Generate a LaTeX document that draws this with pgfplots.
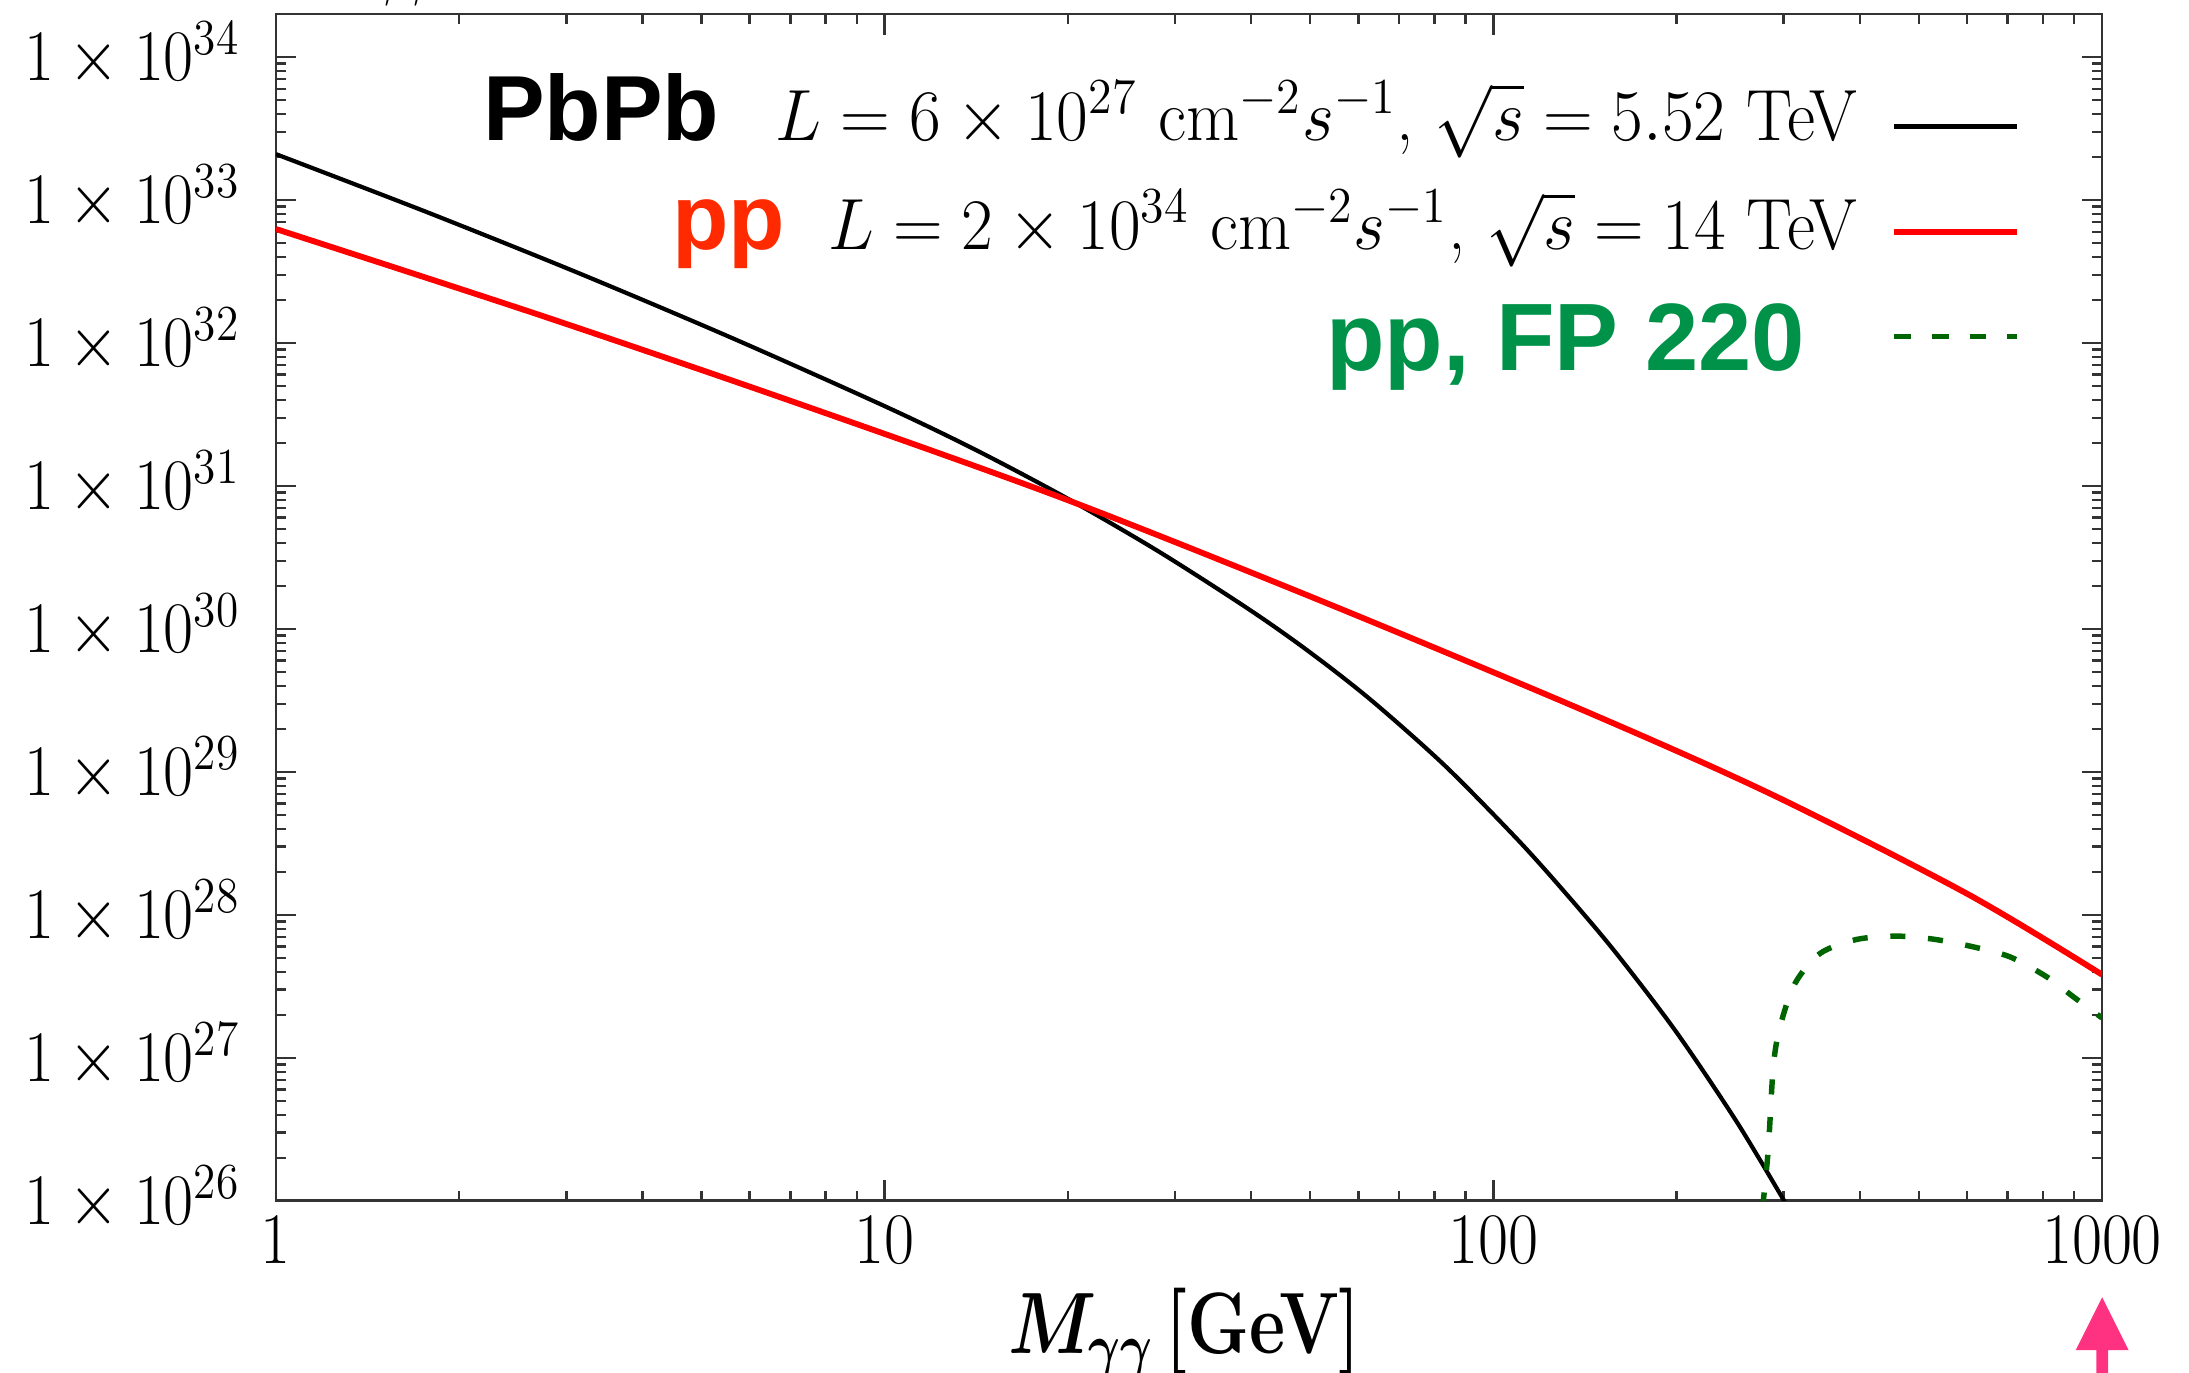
\documentclass[border=0pt]{standalone}
\usepackage{fontspec}
\usepackage{graphicx}
\usepackage{bm}
\usepackage{pgfplots}
\pgfplotsset{compat=1.18}
\newfontfamily\hv{Liberation Sans}

\definecolor{ppred}{RGB}{255,42,0}
\definecolor{fpgreen}{RGB}{0,146,72}
\definecolor{fpline}{RGB}{0,100,0}
\definecolor{arrowpink}{RGB}{255,50,130}

% bold sans labels put on top of the legend, squeezed LM text
\newcommand{\lab}[1]{{\hv\bfseries\fontsize{22}{24}\selectfont #1}}
\newcommand{\sq}[1]{\scalebox{0.9}[1]{#1}}

\pgfplotsset{
    legimg/.style={legend image code/.code={\draw[##1, yshift=#1] (0pt,0pt) -- (29.3pt,0pt);}},
    legimgdash/.style={legend image code/.code={\draw[##1, yshift=#1, dash pattern=on 4pt off 5pt] (0pt,0pt) -- (29.3pt,0pt);}},
}

\begin{document}
\begin{tikzpicture}
\begin{axis}[
    at={(0pt,0pt)}, anchor=south west,
    scale only axis, width=434.76pt, height=282.6pt,
    xmode=log, ymode=log,
    xmin=1, xmax=1000, ymin=1e26, ymax=2e34,
    xtick={1,10,100,1000},
    xticklabels={\sq{1},\sq{10},\sq{100},\sq{1000}},
    minor xtick={2,3,4,5,6,7,8,9,20,30,40,50,60,70,80,90,200,300,400,500,600,700,800,900},
    ytick={1e26,1e27,1e28,1e29,1e30,1e31,1e32,1e33,1e34},
    yticklabels={\sq{$1\times10^{26}$},\sq{$1\times10^{27}$},\sq{$1\times10^{28}$},
        \sq{$1\times10^{29}$},\sq{$1\times10^{30}$},\sq{$1\times10^{31}$},
        \sq{$1\times10^{32}$},\sq{$1\times10^{33}$},\sq{$1\times10^{34}$}},
    minor ytick={2e26,3e26,4e26,5e26,6e26,7e26,8e26,9e26,
        2e27,3e27,4e27,5e27,6e27,7e27,8e27,9e27,
        2e28,3e28,4e28,5e28,6e28,7e28,8e28,9e28,
        2e29,3e29,4e29,5e29,6e29,7e29,8e29,9e29,
        2e30,3e30,4e30,5e30,6e30,7e30,8e30,9e30,
        2e31,3e31,4e31,5e31,6e31,7e31,8e31,9e31,
        2e32,3e32,4e32,5e32,6e32,7e32,8e32,9e32,
        2e33,3e33,4e33,5e33,6e33,7e33,8e33,9e33},
    tick align=inside,
    major tick length=4.9pt, minor tick length=2.4pt,
    axis line style={black!80, line width=0.7pt},
    every tick/.style={black!80, line width=0.6pt},
    xticklabel style={font=\LARGE},
    yticklabel style={font=\LARGE, anchor=base east, inner sep=0pt, xshift=-8.3pt, yshift=-5.6pt},
    xlabel={\resizebox{84pt}{\height}{$\bm{M_{\gamma\gamma}}$\,\textbf{[GeV]}}},
    xlabel style={font=\huge, at={(axis description cs:0.4975,0)}, anchor=base, yshift=-36.4pt},
    legend plot pos=right, legend cell align=right,
    legend style={at={(axis description cs:1,1)}, anchor=north east,
        xshift=-19.5pt, yshift=-5.5pt, draw=none, fill=none,
        inner sep=0pt, outer sep=0pt, row sep=0pt, column sep=8pt,
        font=\LARGE, nodes={inner sep=0pt, outer sep=0pt}},
]
% PbPb
\addplot[black, line width=1pt, smooth, legimg=-8.3pt]
    coordinates {
    (1,2.094e33) (1.778,8.17e32) (3.162,3.05e32) (5.623,1.081e32) (10,3.62e31)
    (14.13,1.784e31) (19.95,8.2e30) (28.18,3.49e30) (39.81,1.36e30) (50.12,6.81e29)
    (63.1,3.16e29) (83.18,1.112e29) (109.6,3.37e28) (131.8,1.403e28) (158.5,5.53e27)
    (199.5,1.535e27) (251.2,3.57e26) (302,9.66e25)};
\addlegendentry{\lab{PbPb}\hspace{13.4pt}\resizebox{257.6pt}{\height}{$L=6\times10^{27}$ cm$^{-2}s^{-1}$, $\sqrt{s}=5.52$ TeV}\rule{0pt}{24.5pt}}
% pp
\addplot[red, line width=1.4pt, smooth, legimg=-7.4pt]
    coordinates {
    (1,6.27e32) (2.68,1.596e32) (6.99,3.954e31) (19.41,8.356e30) (51.9,1.585e30)
    (140.6,2.698e29) (284.8,7.063e28) (599.4,1.413e28) (1000,3.828e27)};
\addlegendentry{{\color{ppred}\lab{pp}}\hspace{10.3pt}\resizebox{245pt}{\height}{$L=2\times10^{34}$ cm$^{-2}s^{-1}$, $\sqrt{s}=14$ TeV}\rule{0pt}{24.5pt}}
% pp, FP 220
\addplot[fpline, line width=1.3pt, smooth, dash pattern=on 3.6pt off 5.4pt, legimgdash=-4.9pt]
    coordinates {
    (277,9e25) (282.9,2.27e26) (288.4,8.69e26) (295.8,1.652e27) (313.1,3.319e27)
    (344.2,5.383e27) (395.4,6.745e27) (460,7.112e27) (528.3,6.776e27) (614.6,5.984e27)
    (706.2,5.093e27) (811,3.698e27) (897.3,2.679e27) (1000,1.905e27)};
\addlegendentry{{\color{fpgreen}\hv\bfseries\fontsize{22.8}{24}\selectfont pp, FP 220}\hspace{12.5pt}\rule{0pt}{27.3pt}}
\end{axis}
% arrow under the 1000 tick
\fill[arrowpink] (434.8pt,-22.9pt) -- (441.1pt,-35.5pt) -- (436.2pt,-35.5pt)
    -- (436.2pt,-46pt) -- (433.4pt,-46pt) -- (433.4pt,-35.5pt) -- (428.5pt,-35.5pt) -- cycle;
% cut-off label above the frame
\node[anchor=base, font=\fontsize{12}{14}\selectfont] at (29.6pt,287pt) {$\gamma\gamma$};
\pgfresetboundingbox
\path[use as bounding box] (-65.71pt,-40.95pt) rectangle (455.48pt,285.95pt);
\end{tikzpicture}
\end{document}
